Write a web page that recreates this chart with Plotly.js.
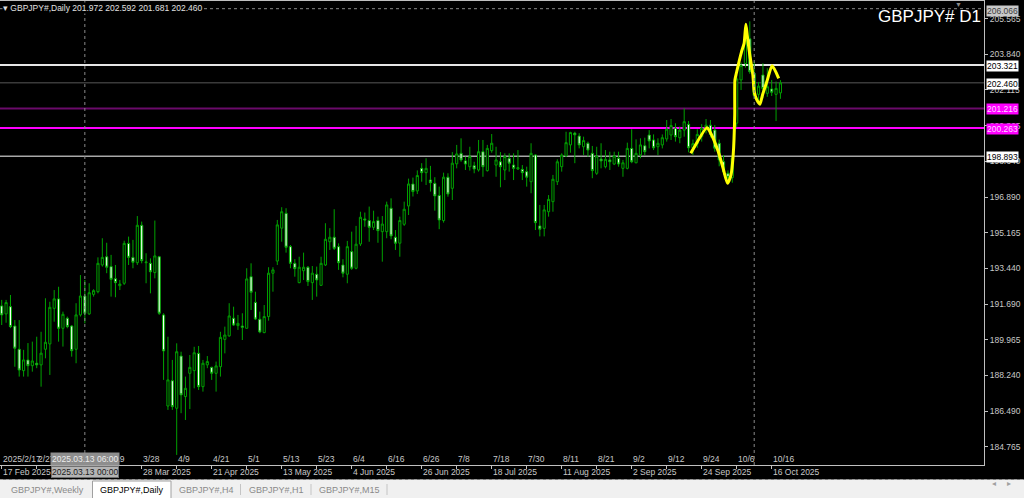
<!DOCTYPE html>
<html><head><meta charset="utf-8">
<script src="https://cdn.plot.ly/plotly-3.0.1.min.js"></script>
<style>html,body{margin:0;padding:0;background:#000;overflow:hidden}#chart{width:1024px;height:498px}</style>
</head><body><div id="chart"></div>
<script>
// ---- daily bars (bar index 0 = first visible bar, 2025/2/17) ----
const open = [191.61,191.22,191.57,190.63,189.50,188.46,188.98,188.70,188.82,188.74,
189.50,189.76,191.49,191.95,190.52,191.01,190.63,189.50,191.17,192.09,
191.22,192.17,192.30,193.60,194.00,193.52,192.93,192.59,192.71,194.65,
193.97,193.71,195.53,193.71,193.68,193.23,194.00,191.17,186.74,187.97,
186.63,189.17,187.20,188.33,188.46,189.30,187.68,188.74,188.62,188.33,
188.65,189.98,190.15,191.01,190.65,190.63,190.52,193.03,191.78,190.96,
190.31,191.09,193.20,193.79,195.39,196.11,194.49,193.68,192.74,193.32,
193.49,192.74,193.15,192.61,193.60,194.73,194.95,194.49,193.60,193.15,
194.25,193.44,194.62,195.84,195.76,195.43,195.76,195.22,195.22,196.36,
194.95,194.66,195.58,196.47,197.54,197.20,198.30,198.09,197.73,197.57,
196.98,195.76,197.87,197.33,198.52,199.03,198.66,198.38,198.43,198.22,
199.11,198.19,199.16,198.46,198.62,198.22,198.79,198.46,198.27,198.25,
198.14,197.65,198.95,195.50,195.38,196.19,196.68,197.65,198.38,198.90,
199.44,200.01,199.87,199.35,199.52,199.03,198.06,198.75,198.38,198.71,
198.51,198.79,198.30,198.30,199.27,198.57,198.95,199.40,199.92,199.68,
199.35,199.44,199.73,199.92,200.25,199.79,200.16,200.44,199.30,199.50,
199.84,200.25,200.40,200.16,199.52,198.62,198.06,197.85,200.50,202.60,
203.40,204.60,202.92,201.90,202.84,201.95,202.16,201.90,201.972];
const high = [191.90,191.90,192.14,190.92,190.92,189.47,189.80,189.87,190.11,190.35,
191.98,191.81,192.38,192.54,191.33,191.09,190.68,191.74,193.11,192.87,
192.71,192.42,193.97,194.90,194.68,194.09,193.60,192.87,194.78,194.98,
194.82,195.98,195.71,194.17,193.92,195.76,194.04,191.25,190.11,188.98,
189.79,189.38,188.17,189.22,189.62,189.66,188.98,189.17,188.65,188.90,
190.35,190.60,191.74,191.57,191.17,191.25,193.44,193.68,192.30,191.33,
191.65,193.49,193.49,195.79,196.41,196.36,194.57,193.88,194.00,194.20,
193.55,193.55,193.52,194.00,195.63,195.39,196.31,194.65,193.88,194.77,
195.22,195.50,196.19,196.15,196.44,196.24,195.95,195.98,196.68,196.84,
195.30,195.95,196.68,197.80,197.85,198.20,198.55,198.79,198.42,197.87,
197.41,198.09,198.06,199.09,199.44,199.76,198.87,199.35,198.62,199.68,
199.68,199.44,199.97,199.35,199.09,199.03,199.03,199.03,199.19,198.46,
198.38,199.52,198.98,196.52,196.52,197.00,197.98,198.74,199.03,200.08,
200.08,200.08,200.01,199.84,199.60,199.39,199.35,199.52,199.19,199.11,
199.11,199.11,198.71,199.55,200.20,199.71,199.76,199.79,200.16,199.95,
199.76,199.95,200.65,200.70,200.49,200.33,201.22,200.60,199.70,200.20,
200.45,200.70,200.65,200.40,199.70,198.95,198.20,198.95,202.85,203.45,
205.10,205.45,203.49,202.50,203.41,203.17,202.60,202.52,202.592];
const low = [190.68,190.79,190.53,188.65,188.17,188.17,188.17,188.41,188.58,187.68,
189.06,188.25,190.84,189.87,189.63,190.52,189.14,188.82,191.09,190.76,
191.17,192.06,192.22,193.52,193.20,192.06,192.03,192.38,192.63,193.60,
193.44,193.60,193.68,192.71,192.22,192.95,191.17,188.01,186.55,186.55,
184.36,186.39,186.06,186.59,187.60,187.52,187.44,188.58,188.01,187.44,
188.17,189.30,190.11,190.63,190.44,189.95,190.52,191.41,190.92,190.28,
190.28,190.89,192.30,193.60,194.73,194.20,193.44,193.03,192.71,192.87,
192.58,191.90,192.06,192.58,193.55,194.33,194.33,193.36,193.00,192.71,
193.36,193.39,194.52,195.46,194.73,195.30,194.68,193.76,194.90,194.85,
194.33,194.00,195.50,196.03,196.93,197.05,197.65,197.49,197.17,196.24,
195.34,195.66,196.92,196.76,198.30,198.62,198.22,198.19,198.06,198.14,
197.89,198.14,199.06,197.89,197.38,197.73,198.14,197.73,198.22,197.73,
197.41,197.09,195.30,194.99,194.99,195.95,196.19,197.49,198.14,198.87,
199.06,198.55,199.27,198.95,198.87,197.82,197.98,198.30,198.30,198.22,
198.46,198.38,197.89,198.25,198.55,198.55,198.79,198.95,199.27,199.19,
198.95,199.27,199.60,199.68,199.60,199.52,199.84,199.08,198.95,199.30,
199.60,200.00,199.80,199.11,198.40,197.98,197.55,197.60,200.30,202.11,
203.20,202.90,201.70,201.55,201.71,201.78,201.82,200.60,201.681];
const close = [191.17,191.77,190.60,189.55,188.49,188.98,188.70,188.93,188.74,189.31,
189.84,191.54,191.95,190.52,191.20,190.60,189.43,191.17,192.09,191.25,
192.25,192.35,193.68,193.97,193.49,192.90,192.74,192.67,194.65,193.97,
193.73,195.53,193.81,193.74,193.27,194.04,191.25,189.42,188.01,186.71,
189.38,187.28,187.60,188.62,189.33,187.68,188.82,188.90,188.33,188.69,
190.08,190.19,191.12,190.68,190.76,190.57,192.92,192.27,190.97,190.34,
191.09,193.20,193.36,195.55,196.19,194.46,193.68,193.42,193.49,193.49,
192.79,193.20,192.87,193.68,194.85,194.95,194.41,193.71,193.20,194.49,
193.44,194.61,195.92,195.79,195.43,195.71,195.27,195.59,196.52,195.01,
194.66,195.76,196.31,197.54,197.17,197.95,198.09,198.30,197.60,196.96,
195.79,197.87,197.05,198.55,199.00,198.71,198.51,198.87,198.27,199.11,
198.38,199.27,199.52,198.71,198.38,198.87,198.55,198.30,198.33,198.09,
197.87,199.03,195.66,195.34,196.28,196.79,197.77,198.62,198.95,199.55,
200.04,199.93,199.44,199.65,199.19,198.19,198.90,198.66,198.74,198.62,
198.90,198.51,198.57,199.27,198.62,199.03,199.44,199.11,199.63,199.30,
199.52,199.79,200.21,200.38,199.84,200.16,200.57,199.30,199.50,199.95,
200.26,200.40,199.95,199.28,198.71,198.14,197.85,198.80,202.65,203.30,
204.55,203.00,201.85,202.30,202.18,202.27,202.00,202.19,202.460];

// ---- price scale ticks ----
const priceTicks = [205.565,203.840,202.115,200.365,198.640,196.890,195.165,193.440,191.690,189.965,188.240,186.490,184.765];
// ---- time labels (bar index : text) ----
const topLabelIdx = [0,8,24,32,40,48,56,64,72,80,88,96,104,112,120,128,136,144,152,160,168,176];
const topLabels = ["2025/2/17","2/27","3/19","3/28","4/9","4/21","5/1","5/13","5/23","6/4","6/16","6/26","7/8","7/18","7/30","8/11","8/21","9/2","9/12","9/24","10/6","10/16"];
const tickIdx = [0,8,16,24,32,40,48,56,64,72,80,88,96,104,112,120,128,136,144,152,160,168,176];
const bottomLabelIdx = [0,32,48,64,80,96,112,128,144,160,176];
const bottomLabels = ["17 Feb 2025","28 Mar 2025","21 Apr 2025","13 May 2025","4 Jun 2025","26 Jun 2025","18 Jul 2025","11 Aug 2025","2 Sep 2025","24 Sep 2025","16 Oct 2025"];
// ---- horizontal levels ----
const levelPrices = [203.321, 202.460, 201.216, 200.263, 198.893];
const levelColors = ['#e6e6e6', '#3a3a3a', '#6a0a6a', '#ff00ff', '#a8a8a8'];
const levelWidths = [2, 1.5, 2, 2, 1.5];
const levelBoxBg = ['#ffffff', '#ffffff', '#ff00ff', '#ff00ff', '#ffffff'];
const levelBoxFg = ['#000000', '#000000', '#ffd8ff', '#ffd8ff', '#000000'];
// crosshair
const crossPrice = 206.066;
const crossIdx = 19;
const sepIdx = 172;
// ---- freehand yellow drawing (bar index, price) ----
const drawIdx = [157.5,161.2,161.9,163.8,164.9,165.9,166.7,167.2,167.55,167.6,168.0,169.1,169.7,170.1,170.4,171.0,171.7,172.0,172.6,173.3,173.9,174.9,176.1,177.6];
const drawPrice = [199.03,200.28,200.08,199.11,198.30,197.57,197.98,198.95,200.90,202.60,203.00,203.97,204.38,205.31,204.79,203.81,202.84,202.03,201.63,201.42,201.87,202.52,203.29,202.68];

const tabs = ["GBPJPY#,Weekly","GBPJPY#,Daily","GBPJPY#,H4","GBPJPY#,H1","GBPJPY#,M15"];
const tabCenters = [47,131.5,206,276,349];

const idx = open.map((_, i) => i);
const PW = 984, PT = 1, PH = 464;
const py = p => (PT + PH - p) / PH;   // pixel row -> paper y
const px = p => p / PW;               // pixel col -> paper x
const SANS = 'Liberation Sans, Arial, sans-serif';
const FS = 8.5;

const traces = [
  {
    type: 'candlestick', x: idx, open: open, high: high, low: low, close: close,
    increasing: {line: {color: '#00a000', width: 1}, fillcolor: '#000000'},
    decreasing: {line: {color: '#00a800', width: 1}, fillcolor: '#f4fff4'},
    whiskerwidth: 0, hoverinfo: 'skip', showlegend: false
  },
  {
    type: 'scatter', mode: 'lines', x: drawIdx, y: drawPrice,
    line: {color: '#ffff00', width: 3, shape: 'spline', smoothing: 0.6},
    hoverinfo: 'skip', showlegend: false
  }
];

const shapes = [];
levelPrices.forEach((p, k) => shapes.push({type: 'line', xref: 'paper', x0: 0, x1: 1, yref: 'y', y0: p, y1: p,
  line: {color: levelColors[k], width: levelWidths[k]}, layer: 'below'}));
shapes.push({type: 'line', xref: 'paper', x0: 0, x1: 1, yref: 'y', y0: crossPrice, y1: crossPrice, line: {color: '#8a8a8a', width: 1, dash: 'dot'}});
shapes.push({type: 'line', xref: 'x', x0: crossIdx, x1: crossIdx, yref: 'paper', y0: 0, y1: 1, line: {color: '#8a8a8a', width: 1, dash: 'dot'}});
shapes.push({type: 'line', xref: 'x', x0: sepIdx, x1: sepIdx, yref: 'paper', y0: 0, y1: 1, line: {color: '#8a8a8a', width: 1, dash: 'dot'}});
// bottom tab strip
shapes.push({type: 'rect', xref: 'paper', yref: 'paper', x0: 0, x1: 1024 / PW, y0: py(498), y1: py(479.5), fillcolor: '#f0f0f0', line: {width: 0}});
shapes.push({type: 'line', xref: 'paper', yref: 'paper', x0: 0, x1: 1024 / PW, y0: py(479.5), y1: py(479.5), line: {color: '#9a9a9a', width: 1, dash: 'dot'}});
shapes.push({type: 'rect', xref: 'paper', yref: 'paper', x0: px(92.5), x1: px(171), y0: py(499), y1: py(481), fillcolor: '#ffffff', line: {color: '#a0a0a0', width: 1}});
[240.5, 311, 387].forEach(s => shapes.push({type: 'line', xref: 'paper', yref: 'paper', x0: px(s), x1: px(s), y0: py(484), y1: py(495), line: {color: '#c4c4c4', width: 1}}));

const ann = [];
ann.push({xref: 'paper', yref: 'paper', x: px(2), y: py(8), xanchor: 'left', yanchor: 'middle', showarrow: false,
  text: '▾ GBPJPY#,Daily 201.972 202.592 201.681 202.460', bgcolor: '#000000', borderpad: 0,
  font: {family: SANS, size: 8.5, color: '#e0e0e0'}});
ann.push({xref: 'paper', yref: 'paper', x: px(983), y: py(16), xanchor: 'right', yanchor: 'middle', showarrow: false,
  text: 'GBPJPY# D1', font: {family: SANS, size: 17, color: '#ffffff'}});
ann.push({xref: 'paper', yref: 'paper', x: px(958), y: py(4), xanchor: 'center', yanchor: 'middle', showarrow: false,
  text: '▼', font: {family: SANS, size: 7, color: '#8a8a8a'}});
topLabelIdx.forEach((v, k) => ann.push({xref: 'x', yref: 'paper', x: v, y: py(459), xanchor: 'left', yanchor: 'middle', xshift: -1,
  showarrow: false, text: topLabels[k], font: {family: SANS, size: FS, color: '#c8c8c8'}}));
bottomLabelIdx.forEach((v, k) => ann.push({xref: 'x', yref: 'paper', x: v, y: py(472.5), xanchor: 'left', yanchor: 'middle', xshift: -1,
  showarrow: false, text: bottomLabels[k], font: {family: SANS, size: FS, color: '#c8c8c8'}}));
ann.push({xref: 'x', yref: 'paper', x: crossIdx, y: py(459), xanchor: 'center', yanchor: 'middle', showarrow: false,
  text: '2025.03.13 06:00', bgcolor: '#8e8e8e', borderpad: 1, font: {family: SANS, size: FS, color: '#ececec'}});
ann.push({xref: 'x', yref: 'paper', x: crossIdx, y: py(472.5), xanchor: 'center', yanchor: 'middle', showarrow: false,
  text: '2025.03.13 00:00', bgcolor: '#b4b4b4', bordercolor: '#707070', borderwidth: 1, borderpad: 0, font: {family: SANS, size: FS, color: '#202020'}});
levelPrices.forEach((p, k) => ann.push({xref: 'paper', yref: 'y', x: px(986), y: p, xanchor: 'left', yanchor: 'middle', yshift: -1,
  showarrow: false, text: p.toFixed(3), bgcolor: levelBoxBg[k], borderpad: 0, font: {family: SANS, size: FS, color: levelBoxFg[k]}}));
ann.push({xref: 'paper', yref: 'y', x: px(986), y: crossPrice, xanchor: 'left', yanchor: 'middle', yshift: -2,
  showarrow: false, text: crossPrice.toFixed(3), bgcolor: '#c8c8c8', borderpad: 0, font: {family: SANS, size: FS, color: '#404040'}});
tabs.forEach((t, k) => ann.push({xref: 'paper', yref: 'paper', x: px(tabCenters[k]), y: py(490), xanchor: 'center', yanchor: 'middle',
  showarrow: false, text: t, font: {family: SANS, size: 9, color: k === 1 ? '#000000' : '#8a8a8a'}}));
ann.push({xref: 'paper', yref: 'paper', x: px(998), y: py(490), showarrow: false, text: '◂', font: {family: SANS, size: 8, color: '#a0a0a0'}});
ann.push({xref: 'paper', yref: 'paper', x: px(1013), y: py(490), showarrow: false, text: '▸', font: {family: SANS, size: 8, color: '#a0a0a0'}});

const layout = {
  width: 1024, height: 498,
  margin: {l: 0, r: 40, t: PT, b: 498 - PT - PH, pad: 0},
  paper_bgcolor: '#000000', plot_bgcolor: '#000000',
  showlegend: false,
  xaxis: {
    range: [-0.39, 224.53], rangeslider: {visible: false}, showgrid: false, zeroline: false,
    showline: true, mirror: true, linecolor: '#c0c0c0', linewidth: 1,
    tickmode: 'array', tickvals: tickIdx, showticklabels: false,
    ticks: 'outside', ticklen: 3, tickcolor: '#c0c0c0', fixedrange: true
  },
  yaxis: {
    range: [183.87, 206.44], side: 'right', showgrid: false, zeroline: false,
    showline: true, mirror: true, linecolor: '#c0c0c0', linewidth: 1,
    tickmode: 'array', tickvals: priceTicks, ticktext: priceTicks.map(v => v.toFixed(3)),
    ticks: 'outside', ticklen: 3, tickcolor: '#c0c0c0',
    tickfont: {family: SANS, size: FS, color: '#c8c8c8'}, fixedrange: true
  },
  shapes: shapes,
  annotations: ann
};

Plotly.newPlot('chart', traces, layout, {staticPlot: true, displayModeBar: false});
</script></body></html>
